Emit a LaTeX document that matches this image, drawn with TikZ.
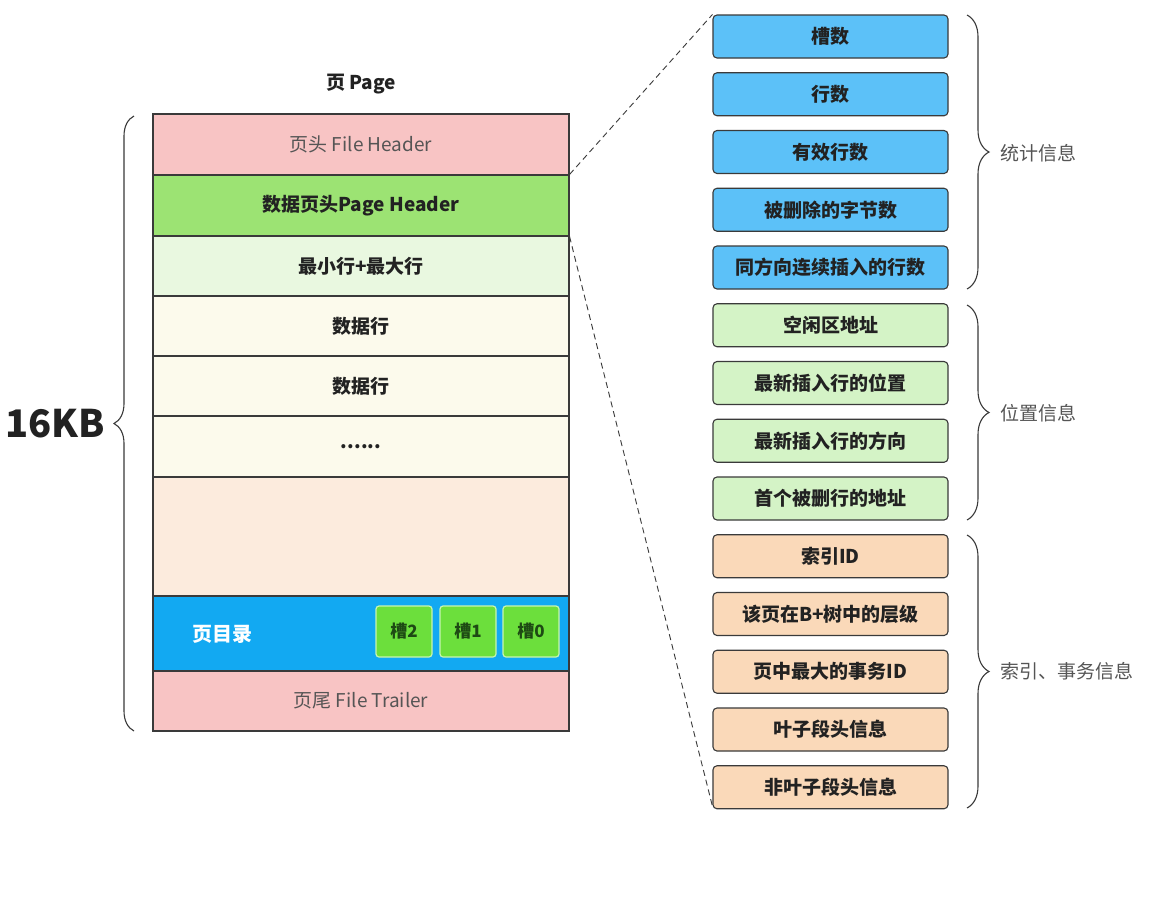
\documentclass[tikz,border=0pt]{standalone}
\usepackage{fontspec}
\setmainfont{Noto Sans CJK SC}
\usetikzlibrary{decorations.pathreplacing}
\definecolor{pinkrow}{HTML}{F8C4C4}
\definecolor{greenhdr}{HTML}{9CE373}
\definecolor{lgreenrow}{HTML}{E9F8E0}
\definecolor{creamrow}{HTML}{FCFAEC}
\definecolor{peachrow}{HTML}{FCEBDD}
\definecolor{dirblue}{HTML}{12A9F2}
\definecolor{slotgreen}{HTML}{6CDF3C}
\definecolor{slotborder}{HTML}{C8F5B0}
\definecolor{slottext}{HTML}{1E4A14}
\definecolor{rblue}{HTML}{5CC1F8}
\definecolor{rgreen}{HTML}{D4F3C6}
\definecolor{rorange}{HTML}{FAD9B9}
\definecolor{graytext}{HTML}{555555}
\definecolor{darktext}{HTML}{222222}
\definecolor{edge}{HTML}{3A3A3A}
\begin{document}
\begin{tikzpicture}[x=1pt,y=-1pt,
  rowbox/.style={draw=edge,line width=1.1pt,minimum width=416pt,inner sep=0pt,font=\fontsize{19}{19}\selectfont\bfseries,text=darktext},
  rowplain/.style={rowbox,font=\fontsize{19}{19}\selectfont,text=graytext},
  slotbox/.style={draw=slotborder,line width=1.2pt,fill=slotgreen,rounded corners=3pt,minimum width=56pt,minimum height=51pt,inner sep=0pt,font=\fontsize{17}{17}\selectfont\bfseries,text=slottext},
  infobox/.style={draw=edge,line width=1.1pt,rounded corners=4pt,minimum width=235pt,minimum height=43pt,inner sep=0pt,font=\fontsize{19}{19}\selectfont\bfseries,text=darktext},
  bluebox/.style={infobox,fill=rblue},
  greenbox/.style={infobox,fill=rgreen},
  orangebox/.style={infobox,fill=rorange},
  dashline/.style={draw=edge,line width=0.9pt,dash pattern=on 6pt off 4pt},
  bracestyle/.style={draw=edge,line width=1.1pt,decorate,decoration={brace,amplitude=#1}},
  grouplabel/.style={anchor=west,inner sep=0pt,font=\fontsize{19}{19}\selectfont,text=graytext}
]
\fill[white] (0,0) rectangle (1164,908);
\useasboundingbox (0,0) rectangle (1164,908);

% title
\node[font=\fontsize{19}{19}\selectfont\bfseries,text=darktext] (title) at (361,84) {页 Page};

% page rows
\node[rowplain,fill=pinkrow,minimum height=61pt] (r1) at (361,144.5) {页头 File Header};
\node[rowbox,fill=greenhdr,minimum height=61pt] (r2) at (361,205.5) {数据页头Page Header};
\node[rowbox,fill=lgreenrow,minimum height=60pt] (r3) at (361,266) {最小行+最大行};
\node[rowbox,fill=creamrow,minimum height=60pt] (r4) at (361,326) {数据行};
\node[rowbox,fill=creamrow,minimum height=60pt] (r5) at (361,386) {数据行};
\node[rowbox,fill=creamrow,minimum height=61pt] (r6) at (361,446.5) {......};
\node[rowbox,fill=peachrow,minimum height=119pt] (r7) at (361,536.5) {};
\node[rowbox,fill=dirblue,minimum height=75pt] (r8) at (361,633.5) {};
\node[rowplain,fill=pinkrow,minimum height=60pt] (r9) at (361,701) {页尾 File Trailer};

\node[font=\fontsize{20}{20}\selectfont\bfseries,text=white] (dir) at (222,634) {页目录};
\node[slotbox] (s2) at (404,631.5) {槽2};
\node[slotbox] (s1) at (468,631.5) {槽1};
\node[slotbox] (s0) at (531,631.5) {槽0};

% left brace
\coordinate (lbb) at (134,731);
\coordinate (lbt) at (134,116);
\draw[bracestyle=20pt] (lbb) -- (lbt);
\node[font=\fontsize{38}{38}\selectfont\bfseries,text=darktext] (kb) at (55,424) {16KB};

% right boxes
\node[bluebox] (b1) at (830.5,36.5) {槽数};
\node[bluebox] (b2) at (830.5,94.25) {行数};
\node[bluebox] (b3) at (830.5,152) {有效行数};
\node[bluebox] (b4) at (830.5,209.75) {被删除的字节数};
\node[bluebox] (b5) at (830.5,267.5) {同方向连续插入的行数};
\node[greenbox] (b6) at (830.5,325.25) {空闲区地址};
\node[greenbox] (b7) at (830.5,383) {最新插入行的位置};
\node[greenbox] (b8) at (830.5,440.75) {最新插入行的方向};
\node[greenbox] (b9) at (830.5,498.5) {首个被删行的地址};
\node[orangebox] (b10) at (830.5,556.25) {索引ID};
\node[orangebox] (b11) at (830.5,614) {该页在B+树中的层级};
\node[orangebox] (b12) at (830.5,671.75) {页中最大的事务ID};
\node[orangebox] (b13) at (830.5,729.5) {叶子段头信息};
\node[orangebox] (b14) at (830.5,787.25) {非叶子段头信息};

% dashed connectors
\draw[dashline] (r2.north east) -- (b1.north west);
\draw[dashline] (r2.south east) -- ([yshift=3pt]b14.south west);

% right braces
\coordinate (g1t) at (967,15);
\coordinate (g1b) at (967,289);
\coordinate (g2t) at (967,305);
\coordinate (g2b) at (967,520);
\coordinate (g3t) at (967,535);
\coordinate (g3b) at (967,808);
\draw[bracestyle=22pt] (g1t) -- (g1b);
\draw[bracestyle=22pt] (g2t) -- (g2b);
\draw[bracestyle=22pt] (g3t) -- (g3b);
\node[grouplabel] (l1) at (1000,153) {统计信息};
\node[grouplabel] (l2) at (1000,413) {位置信息};
\node[grouplabel] (l3) at (1000,671) {索引、事务信息};
\end{tikzpicture}
\end{document}
